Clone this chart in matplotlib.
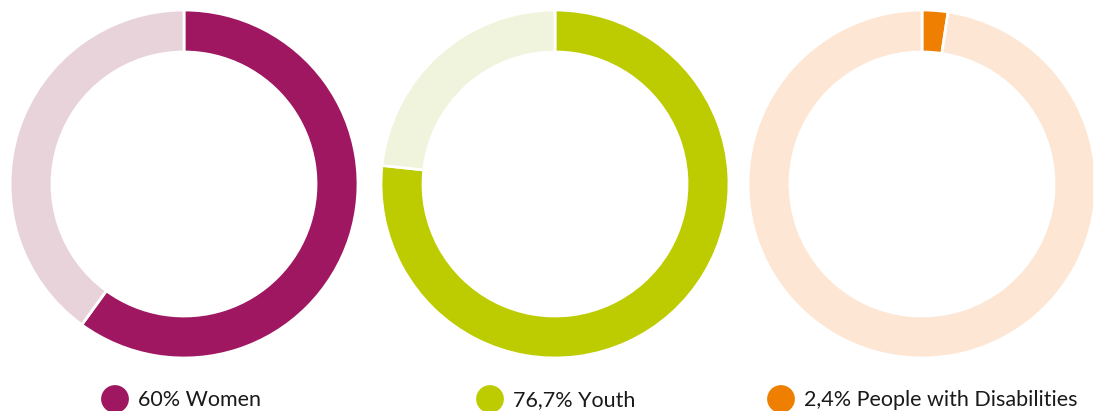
import matplotlib.pyplot as plt

# share of participants per group (percent)
labels = ["60% Women", "76,7% Youth", "2,4% People with Disabilities"]
shares = [60.0, 76.7, 2.4]
main_colors = ["#9E1760", "#BDCC00", "#EE7F00"]
rest_colors = ["#E8D3DB", "#F1F4DC", "#FDE6D3"]

W, H = 1093, 411
fig = plt.figure(figsize=(W / 100, H / 100), dpi=100)
ax = fig.add_axes([0, 0, 1, 1])

centers_x = [184, 555, 922]
center_y = H - 184
radius = 174
ring = 42
legend_dot_x = [115, 490, 781]
legend_y = H - 399

for i, share in enumerate(shares):
    ax.pie([share, 100 - share], colors=[main_colors[i], rest_colors[i]],
           startangle=90, counterclock=False,
           center=(centers_x[i], center_y), radius=radius,
           wedgeprops=dict(width=ring, edgecolor="white", linewidth=2),
           frame=True)
    ax.scatter([legend_dot_x[i]], [legend_y], s=400, color=main_colors[i],
               edgecolors="none")
    ax.text(legend_dot_x[i] + 23, legend_y - 1, labels[i], fontsize=15.5,
            family="Lato", color="#1a1a1a", va="center", ha="left")

ax.set_xlim(0, W)
ax.set_ylim(0, H)
ax.set_aspect("equal")
ax.axis("off")
fig.savefig("out.png", dpi=100)
